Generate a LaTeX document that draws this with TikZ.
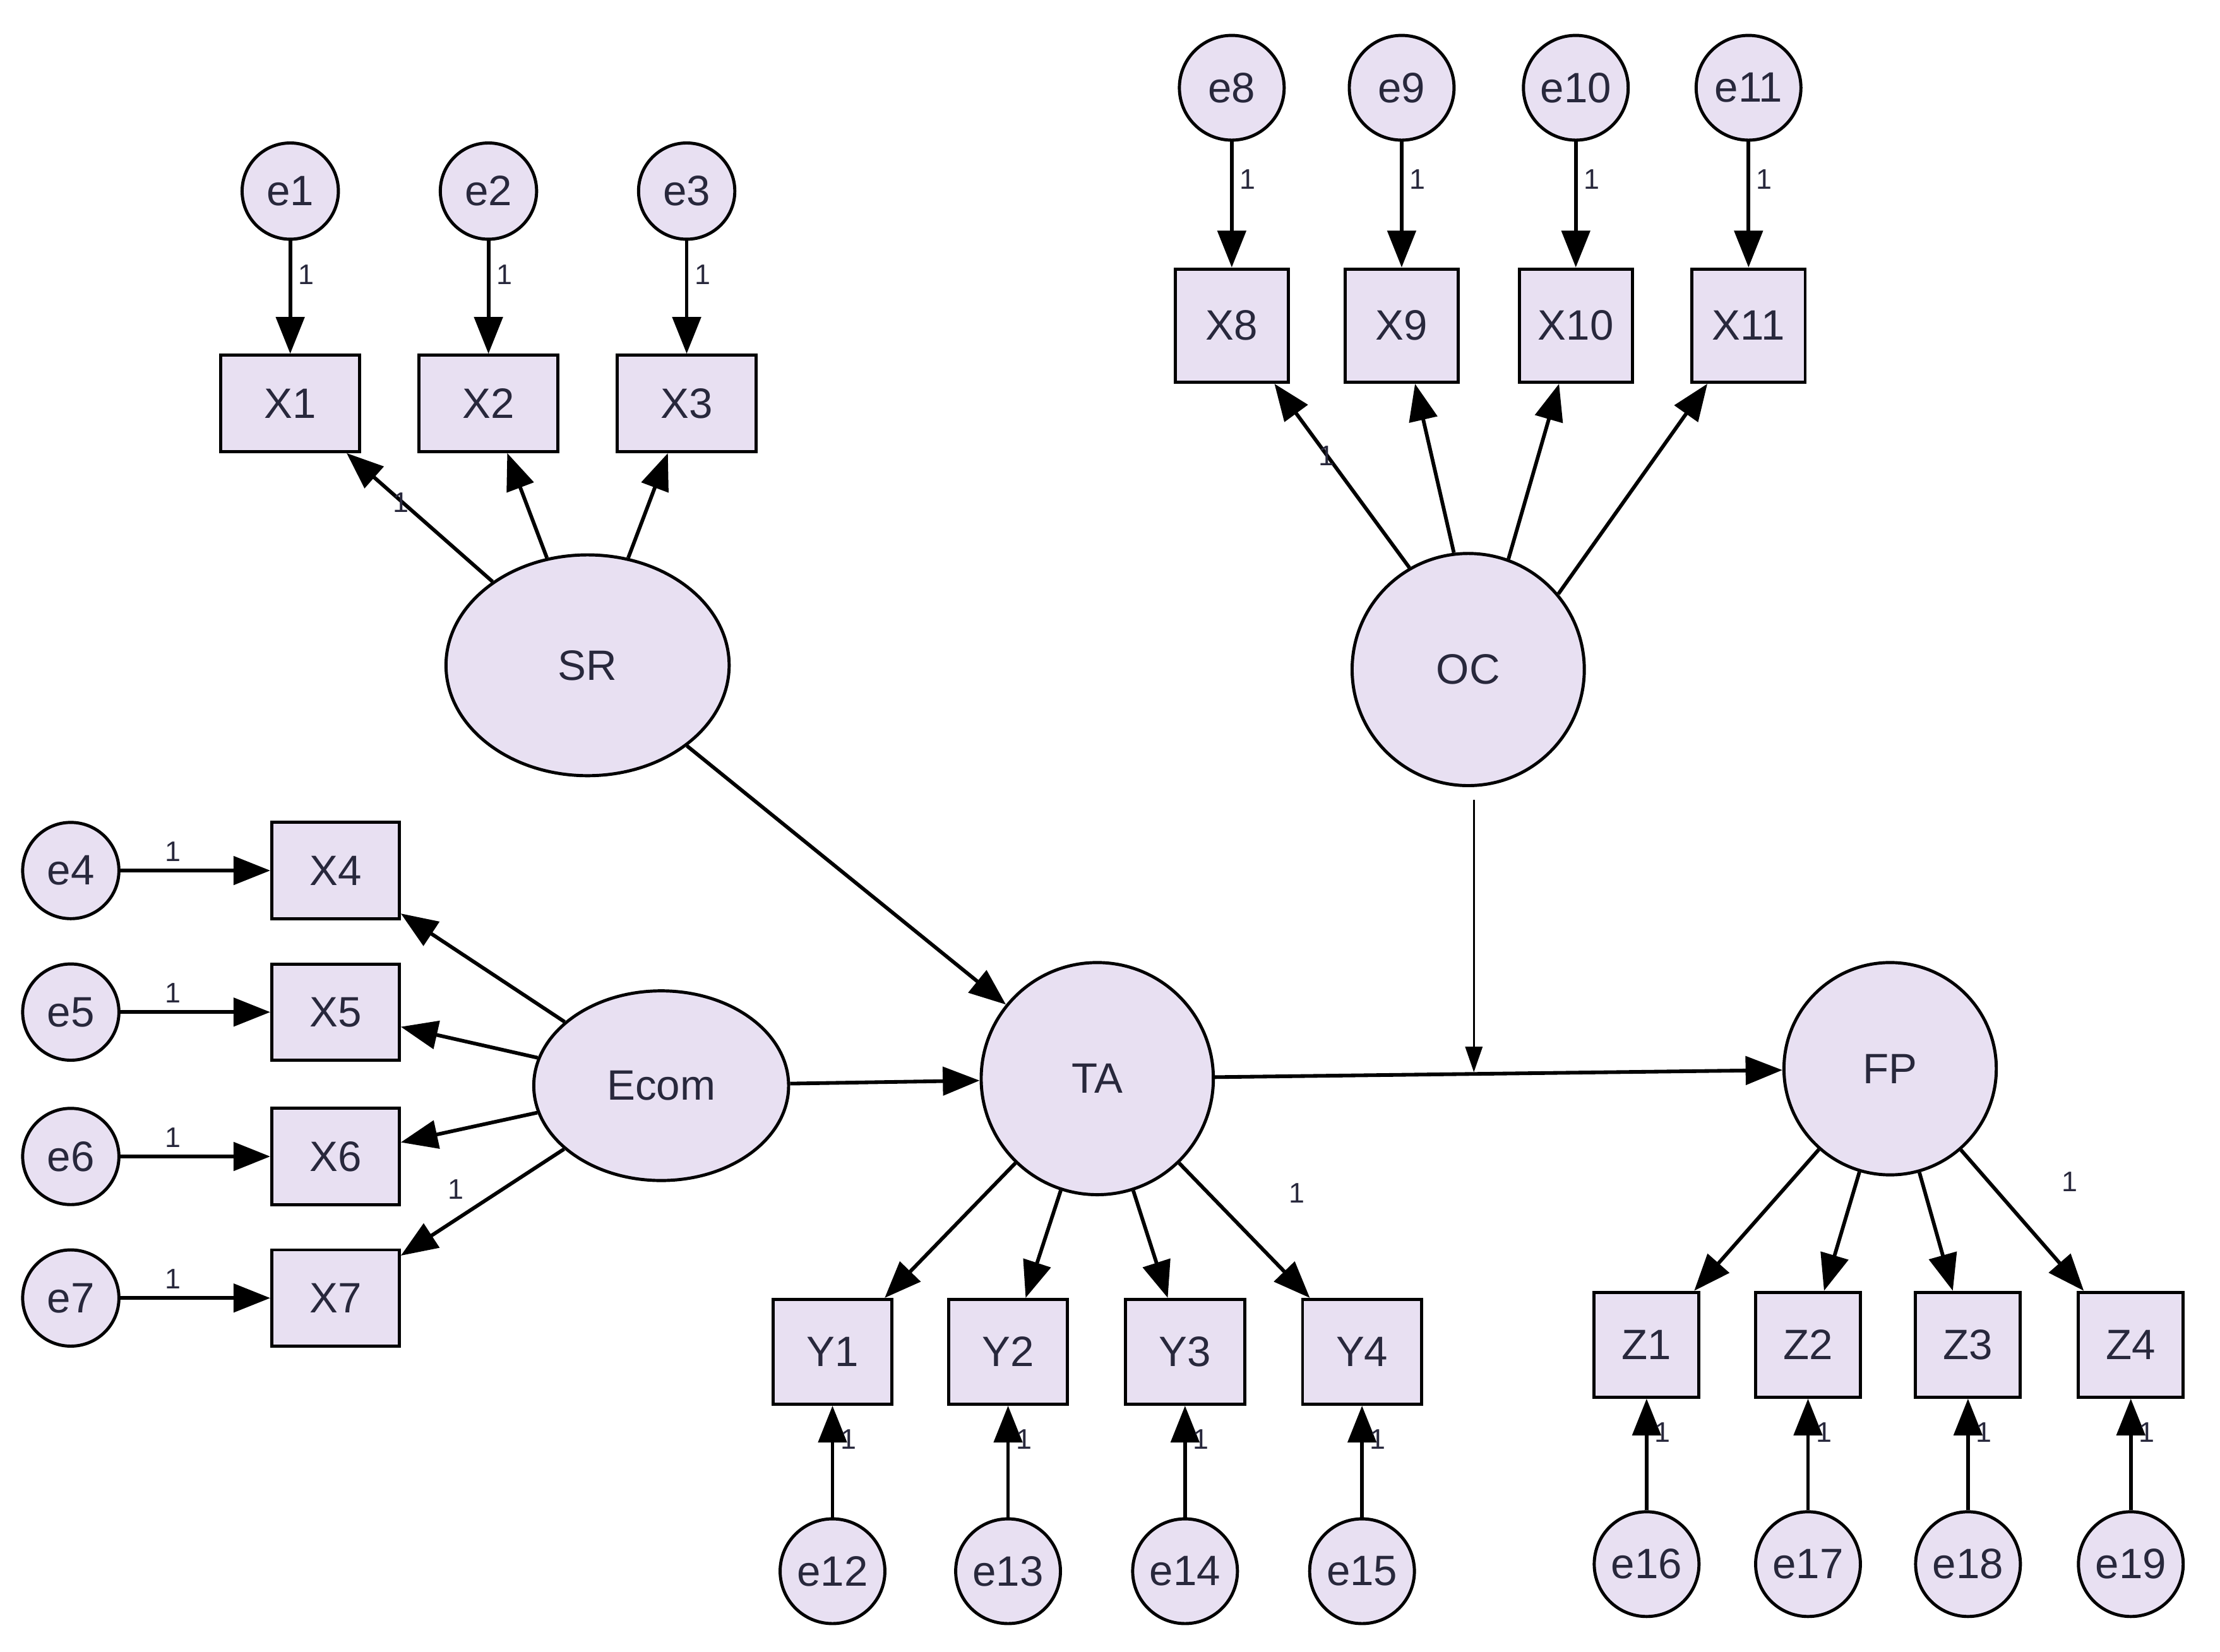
\documentclass[tikz,border=0pt]{standalone}
\usepackage{fontspec}
\setmainfont{Liberation Sans}
\usetikzlibrary{arrows.meta,shapes.geometric}
\definecolor{fillc}{RGB}{232,224,242}
\definecolor{txt}{RGB}{40,40,60}
\begin{document}
\begin{tikzpicture}[x=1pt,y=-1pt,
  base/.style={draw=black,line width=2.2pt,fill=fillc,text=txt,font=\fontsize{30}{34}\selectfont,inner sep=0pt},
  err/.style={base,circle,minimum size=68pt},
  obs/.style={base,rectangle,minimum width=90pt,minimum height=68pt},
  lat/.style={base,ellipse},
  ar/.style={line width=2.6pt,-{Triangle[length=26pt,width=20pt]}},
  one/.style={font=\fontsize{20}{22}\selectfont,text=txt}]
\useasboundingbox (0,0) rectangle (1568,1167);
% SR block
\foreach \i/\x in {1/205,2/345,3/485}{
  \node[err] (e\i) at (\x,135) {e\i};
  \node[obs,minimum width=98pt] (X\i) at (\x,285) {X\i};
  \draw[ar] (e\i) -- (X\i) node[one,pos=0.3,right=1pt] {1};}
\node[lat,minimum width=200pt,minimum height=156pt] (SR) at (415,470) {SR};
\foreach \i in {1,2,3}{\draw[ar] (SR) -- (X\i);}
\node[one] at (283,355) {1};
% OC block
\foreach \i/\x in {8/870,9/990,10/1113,11/1235}{
  \node[err,minimum size=74pt] (e\i) at (\x,62) {e\i};
  \node[obs,minimum width=80pt,minimum height=80pt] (X\i) at (\x,230) {X\i};
  \draw[ar] (e\i) -- (X\i) node[one,pos=0.3,right=1pt] {1};}
\node[lat,circle,minimum size=164pt] (OC) at (1037,473) {OC};
\draw[ar] (OC.120) -- (X8);
\draw[ar] (OC.97) -- (X9);
\draw[ar] (OC.70) -- (X10);
\draw[ar] (OC.40) -- (X11);
\node[one] at (937,322) {1};
% Ecom block
\foreach \i/\y in {4/615,5/715,6/817,7/917}{
  \node[err] (e\i) at (50,\y) {e\i};
  \node[obs] (X\i) at (237,\y) {X\i};
  \draw[ar] (e\i) -- (X\i) node[one,pos=0.35,above=2pt] {1};}
\node[lat,minimum width=180pt,minimum height=134pt] (Ecom) at (467,767) {Ecom};
\foreach \i in {4,5,6,7}{\draw[ar] (Ecom) -- (X\i);}
\node[one] at (322,840) {1};
% TA
\node[lat,circle,minimum size=164pt] (TA) at (775,762) {TA};
\node[lat,circle,minimum size=150pt] (FP) at (1335,755) {FP};
\draw[ar] (SR) -- (TA);
\draw[ar] (Ecom) -- (TA);
\draw[ar] (TA) -- (FP);
\coordinate (m) at (1041,757.5);
\coordinate (ocb) at (1041,565);
\draw[line width=1.5pt,-{Triangle[length=18pt,width=12pt]}] (ocb) -- (m);
\foreach \i/\x/\e in {1/588/12,2/712/13,3/837/14,4/962/15}{
  \node[obs,minimum width=84pt,minimum height=74pt] (Y\i) at (\x,955) {Y\i};
  \node[err,minimum size=74pt] (e\e) at (\x,1110) {e\e};
  \draw[ar] (e\e) -- (Y\i) node[one,pos=0.7,right=1pt] {1};
  \draw[ar] (TA) -- (Y\i);}
\node[one] at (916,843) {1};
\foreach \i/\x/\e in {1/1163/16,2/1277/17,3/1390/18,4/1505/19}{
  \node[obs,minimum width=74pt,minimum height=74pt] (Z\i) at (\x,950) {Z\i};
  \node[err,minimum size=74pt] (e\e) at (\x,1105) {e\e};
  \draw[ar] (e\e) -- (Z\i) node[one,pos=0.7,right=1pt] {1};
  \draw[ar] (FP) -- (Z\i);}
\node[one] at (1462,835) {1};
\end{tikzpicture}
\end{document}
